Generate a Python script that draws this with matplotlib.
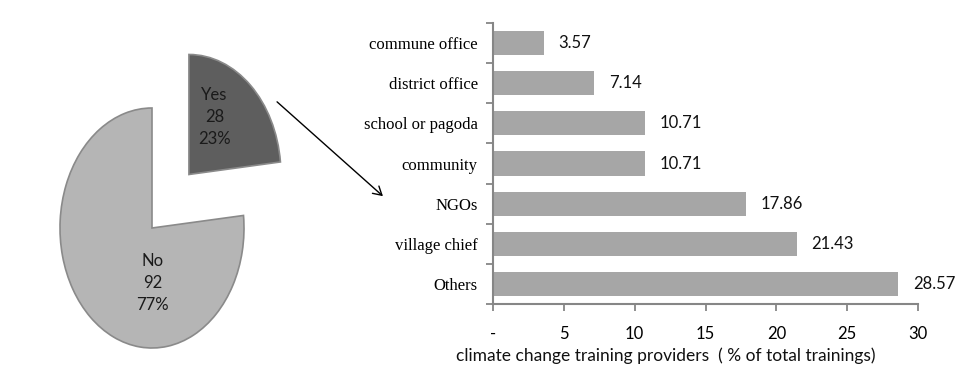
import matplotlib
matplotlib.use("Agg")
import matplotlib.pyplot as plt
from matplotlib.patches import FancyArrowPatch
import numpy as np

# ---- data ----
pie_labels = ["Yes", "No"]
pie_values = [28, 92]

categories = ["commune office", "district office", "school or pagoda", "community",
              "NGOs", "village chief", "Others"]
shares = [3.57, 7.14, 10.71, 10.71, 17.86, 21.43, 28.57]
x_ticks = [0, 5, 10, 15, 20, 25, 30]
x_ticklabels = ["-", "5", "10", "15", "20", "25", "30"]
x_title = "climate change training providers  ( % of total trainings)"

W, H = 957, 390
fig = plt.figure(figsize=(W / 100, H / 100), dpi=100)
fig.patch.set_facecolor("white")

sans = ["Lato", "DejaVu Sans"]
serif = ["Liberation Serif", "DejaVu Serif"]

# ---- pie ----
cx, cy = 152, 228      # pixel centre of pie
rx, ry = 92, 120       # pixel radii
axw = 330
axp = fig.add_axes([0, 0, axw / W, 1])
axp.pie(pie_values, startangle=90, counterclock=False,
        colors=["#5e5e5e", "#b5b5b5"], explode=[0.6, 0],
        wedgeprops=dict(edgecolor="#8a8a8a", linewidth=1.2))
axp.set_aspect("auto")
axp.set_xlim(-cx / rx, (axw - cx) / rx)
axp.set_ylim(-(H - cy) / ry, cy / ry)
axp.axis("off")
total = sum(pie_values)
label_pos = {"Yes": (0.68, 0.925), "No": (0.01, -0.46)}
for lab, v in zip(pie_labels, pie_values):
    px, py = label_pos[lab]
    axp.text(px, py, f"{lab}\n{v}\n{v / total * 100:.0f}%", ha="center", va="center",
             fontsize=12, family=sans, color="#1a1a1a", linespacing=1.45)

# ---- bars ----
left, right, top, bottom = 493, 918, 23, 304
ax = fig.add_axes([left / W, 1 - bottom / H, (right - left) / W, (bottom - top) / H])
ypos = np.arange(len(categories))
ax.barh(ypos, shares, height=0.6, color="#a6a6a6", edgecolor="none")
ax.set_ylim(len(categories) - 0.5, -0.5)
ax.set_xlim(0, 30)
for y, v in zip(ypos, shares):
    ax.annotate(f"{v:.2f}", (v, y), xytext=(15, 0), textcoords="offset pixels",
                ha="left", va="center", fontsize=12, family=sans, color="#111111")

ax.set_yticks(ypos)
ax.set_yticklabels(categories, family=serif, fontsize=12)
ax.set_yticks(np.arange(-0.5, len(categories)), minor=True)
ax.tick_params(axis="y", which="major", length=0, pad=11)
ax.tick_params(axis="y", which="minor", length=5, width=1.3, color="#868686", direction="out")

ax.set_xticks(x_ticks)
ax.set_xticklabels(x_ticklabels, family=sans, fontsize=12)
ax.tick_params(axis="x", length=5, width=1.3, color="#868686", direction="out", pad=11)

for s in ["top", "right"]:
    ax.spines[s].set_visible(False)
for s in ["left", "bottom"]:
    ax.spines[s].set_color("#868686")
    ax.spines[s].set_linewidth(1.5)

fig.text(666 / W, 1 - 356 / H, x_title, ha="center", va="center",
         fontsize=12.5, family=sans, color="#111111")

# ---- arrow ----
arr = FancyArrowPatch((275 / W, 1 - 100 / H), (385 / W, 1 - 198 / H),
                      transform=fig.transFigure, arrowstyle="->,head_length=6,head_width=3.5",
                      color="black", linewidth=1.0, mutation_scale=1)
fig.add_artist(arr)

fig.savefig("out.png", dpi=100)
